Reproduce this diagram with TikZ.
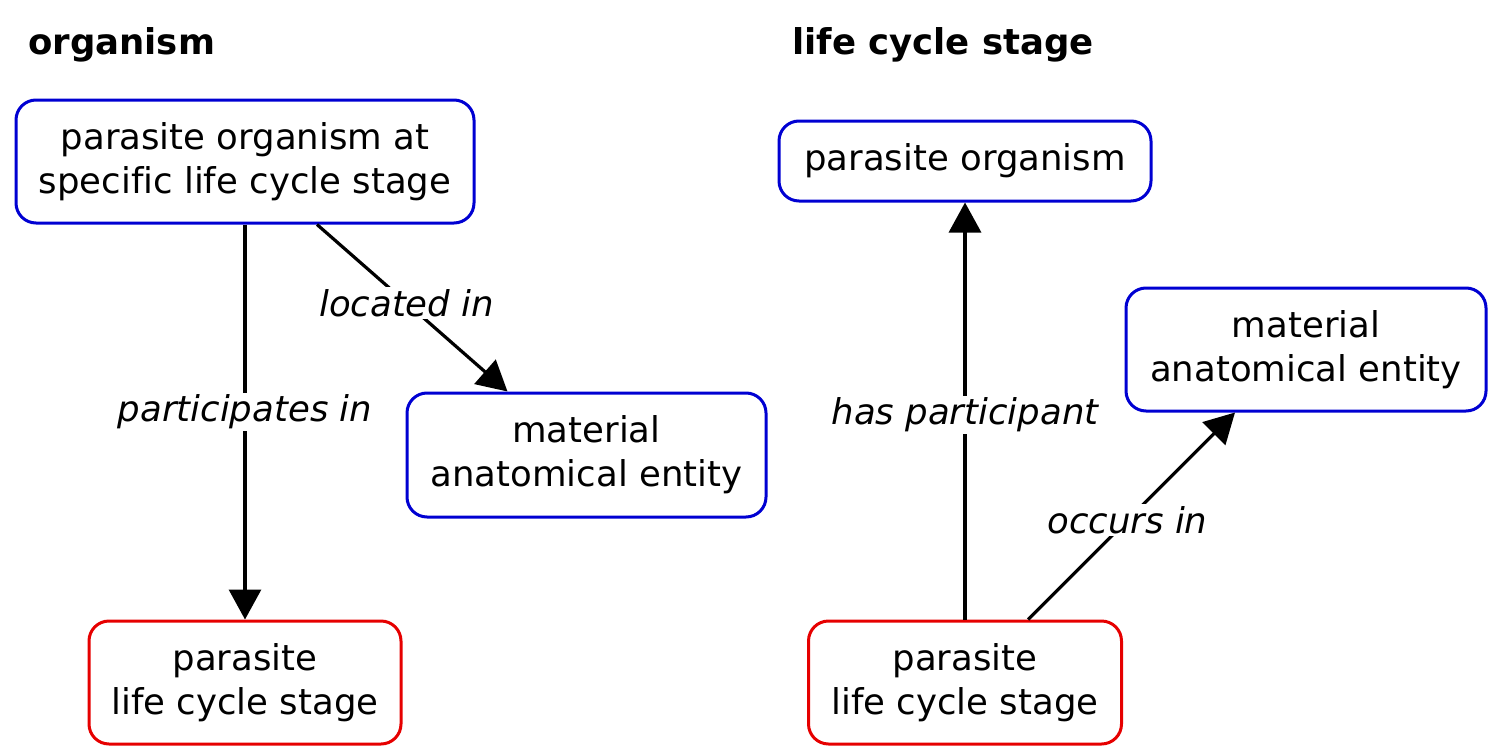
\documentclass[tikz,border=0pt]{standalone}
\usepackage{fontspec}
\setmainfont[Ligatures=NoCommon]{DejaVu Sans}
\usetikzlibrary{arrows.meta}
\definecolor{boxblue}{RGB}{0,0,210}
\definecolor{boxred}{RGB}{230,0,0}
\begin{document}
\begin{tikzpicture}[x=1pt,y=-1pt,
  box/.style={draw, line width=3pt, rounded corners=20pt, inner sep=0pt, align=center, font=\fontsize{35.5}{44}\selectfont},
  bluebox/.style={box, draw=boxblue},
  redbox/.style={box, draw=boxred},
  rel/.style={line width=3.2pt, -{Triangle[length=30pt,width=32pt]}},
  lab/.style={fill=white, inner sep=2pt, font=\fontsize{35.5}{44}\selectfont\itshape},
  title/.style={anchor=base west, inner sep=0pt, font=\fontsize{35.5}{44}\selectfont\bfseries}]
\useasboundingbox (0,0) rectangle (1493,752);

\node[title] (t1) at (28,55) {organism};
\node[title] (t2) at (792,55) {life cycle stage};

\node[bluebox, minimum width=458pt, minimum height=123pt] (A) at (245,161.5) {parasite organism at\\specific life cycle stage};
\node[bluebox, minimum width=359pt, minimum height=124pt] (B) at (586.5,455) {material\\anatomical entity};
\node[redbox, minimum width=312pt, minimum height=123pt] (C) at (245,682.5) {parasite\\life cycle stage};

\node[bluebox, minimum width=372pt, minimum height=80pt] (D) at (965,161) {parasite organism};
\node[bluebox, minimum width=360pt, minimum height=123pt] (E) at (1306,349.5) {material\\anatomical entity};
\node[redbox, minimum width=313pt, minimum height=123pt] (F) at (965,682.5) {parasite\\life cycle stage};

\draw[rel] (A.south) -- node[lab, pos=0.475] {participates in} (C.north);
\draw[rel] ([xshift=72pt]A.south) -- node[lab, pos=0.47] {located in} ([xshift=-79pt]B.north);
\draw[rel] (F.north) -- node[lab, pos=0.49] {has participant} (D.south);
\draw[rel] ([xshift=63pt]F.north) -- node[lab, pos=0.48] {occurs in} ([xshift=-71pt]E.south);
\end{tikzpicture}
\end{document}
